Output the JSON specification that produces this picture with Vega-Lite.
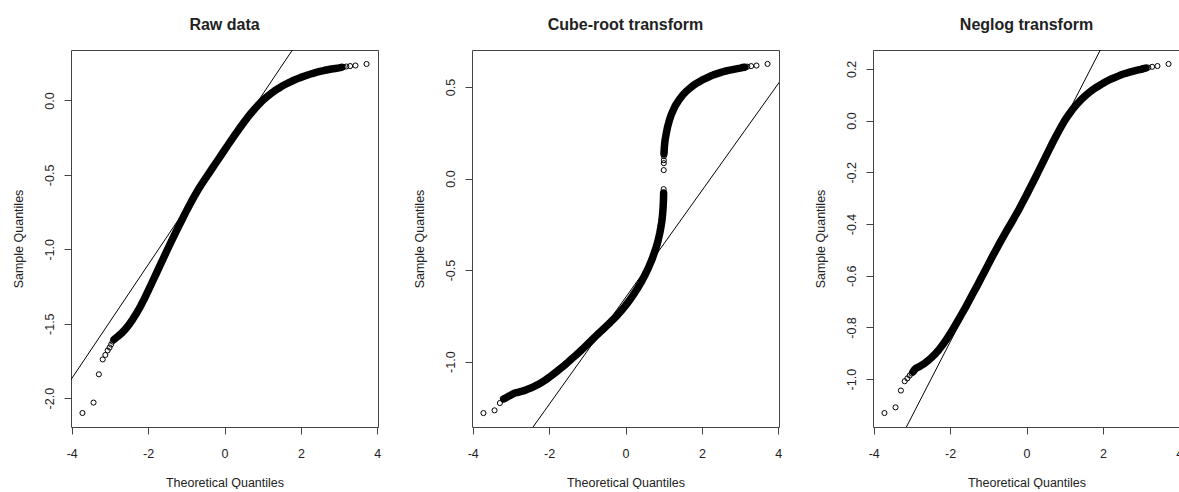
{
 "$schema": "https://vega.github.io/schema/vega-lite/v6.json",
 "autosize": {"type": "pad"},
 "padding": {"left": 11, "top": 16, "right": 0, "bottom": 0},
 "background": "white",
 "spacing": 94,
 "bounds": "flush",
 "config": {
  "font": "Liberation Sans",
  "view": {"stroke": "#444", "strokeWidth": 1},
  "axis": {"domain": false, "grid": false, "ticks": true, "tickSize": 7, "tickColor": "#444", "labelFont": "Liberation Sans", "labelFontSize": 12.5, "labelColor": "#222", "titleFont": "Liberation Sans", "titleFontSize": 12.5, "titleFontWeight": "normal", "titleColor": "#222", "labelFlush": false, "labelOverlap": false, "labelBound": false},
  "axisX": {"labelAngle": 0, "labelAlign": "center", "labelBaseline": "alphabetic", "labelPadding": 23, "titleY": 59, "titleBaseline": "alphabetic", "titleAlign": "center"},
  "axisY": {"labelAngle": 270, "labelAlign": "center", "labelBaseline": "alphabetic", "labelPadding": 11, "titleX": -53, "titleY": 188.5, "titleAngle": 270, "titleAlign": "center", "titleBaseline": "middle"},
  "title": {"font": "Liberation Sans", "fontSize": 16, "fontWeight": "bold", "color": "#222", "offset": 17, "baseline": "alphabetic", "frame": "group", "anchor": "middle"}
 },
 "datasets": {
  "raw": [
   {"x":-3.72,"y":-2.1},{"x":-3.43,"y":-2.03},{"x":-3.29,"y":-1.84},{"x":-3.19,"y":-1.74},{"x":-3.12,"y":-1.71},{"x":-3.06,"y":-1.68},{"x":-3.01,"y":-1.66},{"x":-2.97,"y":-1.64},{"x":-2.93,"y":-1.62},{"x":-2.89,"y":-1.605},
   {"x":-2.8,"y":-1.587},{"x":-2.7,"y":-1.565},{"x":-2.6,"y":-1.538},{"x":-2.5,"y":-1.506},{"x":-2.4,"y":-1.469},{"x":-2.3,"y":-1.428},{"x":-2.2,"y":-1.383},{"x":-2.1,"y":-1.333},{"x":-2.0,"y":-1.28},{"x":-1.9,"y":-1.225},
   {"x":-1.8,"y":-1.17},{"x":-1.7,"y":-1.115},{"x":-1.6,"y":-1.06},{"x":-1.5,"y":-1.005},{"x":-1.4,"y":-0.951},{"x":-1.3,"y":-0.898},{"x":-1.2,"y":-0.846},{"x":-1.1,"y":-0.795},{"x":-1.0,"y":-0.744},{"x":-0.9,"y":-0.695},
   {"x":-0.8,"y":-0.648},{"x":-0.7,"y":-0.604},{"x":-0.6,"y":-0.563},{"x":-0.5,"y":-0.524},{"x":-0.4,"y":-0.486},{"x":-0.3,"y":-0.448},{"x":-0.2,"y":-0.41},{"x":-0.1,"y":-0.372},{"x":0,"y":-0.334},{"x":0.1,"y":-0.296},
   {"x":0.2,"y":-0.258},{"x":0.3,"y":-0.221},{"x":0.4,"y":-0.185},{"x":0.5,"y":-0.15},{"x":0.6,"y":-0.116},{"x":0.7,"y":-0.084},{"x":0.8,"y":-0.054},{"x":0.9,"y":-0.026},{"x":1.0,"y":0.0},{"x":1.1,"y":0.022},
   {"x":1.2,"y":0.043},{"x":1.3,"y":0.062},{"x":1.4,"y":0.079},{"x":1.5,"y":0.095},{"x":1.6,"y":0.109},{"x":1.7,"y":0.122},{"x":1.8,"y":0.134},{"x":1.9,"y":0.145},{"x":2.0,"y":0.155},{"x":2.1,"y":0.164},
   {"x":2.2,"y":0.173},{"x":2.3,"y":0.181},{"x":2.4,"y":0.188},{"x":2.5,"y":0.195},{"x":2.6,"y":0.201},{"x":2.7,"y":0.206},{"x":2.8,"y":0.211},{"x":2.9,"y":0.215},{"x":3.0,"y":0.219},{"x":3.06,"y":0.222},
   {"x":3.12,"y":0.225},{"x":3.19,"y":0.228},{"x":3.29,"y":0.231},{"x":3.43,"y":0.235},{"x":3.72,"y":0.245}
  ],
  "cube": [
   {"x":-3.72,"y":-1.281},{"x":-3.43,"y":-1.266},{"x":-3.29,"y":-1.226},{"x":-3.19,"y":-1.203},{"x":-3.12,"y":-1.196},{"x":-3.06,"y":-1.189},{"x":-3.01,"y":-1.184},{"x":-2.97,"y":-1.179},{"x":-2.93,"y":-1.175},{"x":-2.89,"y":-1.171},
   {"x":-2.8,"y":-1.167},{"x":-2.7,"y":-1.161},{"x":-2.6,"y":-1.154},{"x":-2.5,"y":-1.146},{"x":-2.4,"y":-1.136},{"x":-2.3,"y":-1.126},{"x":-2.2,"y":-1.114},{"x":-2.1,"y":-1.101},{"x":-2.0,"y":-1.086},{"x":-1.9,"y":-1.07},
   {"x":-1.8,"y":-1.054},{"x":-1.7,"y":-1.037},{"x":-1.6,"y":-1.02},{"x":-1.5,"y":-1.002},{"x":-1.4,"y":-0.983},{"x":-1.3,"y":-0.965},{"x":-1.2,"y":-0.946},{"x":-1.1,"y":-0.926},{"x":-1.0,"y":-0.906},{"x":-0.9,"y":-0.886},
   {"x":-0.8,"y":-0.865},{"x":-0.7,"y":-0.845},{"x":-0.6,"y":-0.826},{"x":-0.5,"y":-0.806},{"x":-0.4,"y":-0.786},{"x":-0.3,"y":-0.765},{"x":-0.2,"y":-0.743},{"x":-0.1,"y":-0.719},{"x":0,"y":-0.694},{"x":0.1,"y":-0.667},
   {"x":0.2,"y":-0.637},{"x":0.3,"y":-0.605},{"x":0.4,"y":-0.57},{"x":0.5,"y":-0.531},{"x":0.6,"y":-0.488},{"x":0.7,"y":-0.438},{"x":0.8,"y":-0.378},{"x":0.85,"y":-0.342},{"x":0.9,"y":-0.296},{"x":0.93,"y":-0.262},
   {"x":0.95,"y":-0.235},{"x":0.96,"y":-0.218},{"x":0.97,"y":-0.198},{"x":0.98,"y":-0.173},{"x":0.985,"y":-0.157},{"x":0.99,"y":-0.138},{"x":0.993,"y":-0.122},{"x":0.995,"y":-0.109},{"x":0.997,"y":-0.093},{"x":0.998,"y":-0.079},
   {"x":0.999,"y":-0.058},{"x":1.001,"y":0.046},{"x":1.003,"y":0.084},{"x":1.004,"y":0.1},{"x":1.006,"y":0.122},{"x":1.008,"y":0.136},{"x":1.01,"y":0.144},{"x":1.015,"y":0.163},{"x":1.02,"y":0.177},{"x":1.03,"y":0.198},
   {"x":1.04,"y":0.215},{"x":1.05,"y":0.226},{"x":1.07,"y":0.249},{"x":1.1,"y":0.28},{"x":1.15,"y":0.319},{"x":1.2,"y":0.35},{"x":1.3,"y":0.396},{"x":1.4,"y":0.429},{"x":1.5,"y":0.456},{"x":1.6,"y":0.478},
   {"x":1.7,"y":0.496},{"x":1.8,"y":0.512},{"x":1.9,"y":0.525},{"x":2.0,"y":0.537},{"x":2.1,"y":0.547},{"x":2.2,"y":0.557},{"x":2.3,"y":0.566},{"x":2.4,"y":0.573},{"x":2.5,"y":0.58},{"x":2.6,"y":0.586},
   {"x":2.7,"y":0.591},{"x":2.8,"y":0.595},{"x":2.9,"y":0.599},{"x":3.0,"y":0.603},{"x":3.06,"y":0.606},{"x":3.12,"y":0.608},{"x":3.19,"y":0.611},{"x":3.29,"y":0.614},{"x":3.43,"y":0.617},{"x":3.72,"y":0.626}
  ],
  "neglog": [
   {"x":-3.72,"y":-1.131},{"x":-3.43,"y":-1.109},{"x":-3.29,"y":-1.044},{"x":-3.19,"y":-1.008},{"x":-3.12,"y":-0.997},{"x":-3.06,"y":-0.986},{"x":-3.01,"y":-0.978},{"x":-2.97,"y":-0.971},{"x":-2.93,"y":-0.963},{"x":-2.89,"y":-0.957},
   {"x":-2.8,"y":-0.951},{"x":-2.7,"y":-0.942},{"x":-2.6,"y":-0.931},{"x":-2.5,"y":-0.918},{"x":-2.4,"y":-0.904},{"x":-2.3,"y":-0.887},{"x":-2.2,"y":-0.868},{"x":-2.1,"y":-0.847},{"x":-2.0,"y":-0.824},{"x":-1.9,"y":-0.8},
   {"x":-1.8,"y":-0.775},{"x":-1.7,"y":-0.749},{"x":-1.6,"y":-0.723},{"x":-1.5,"y":-0.696},{"x":-1.4,"y":-0.668},{"x":-1.3,"y":-0.641},{"x":-1.2,"y":-0.613},{"x":-1.1,"y":-0.585},{"x":-1.0,"y":-0.556},{"x":-0.9,"y":-0.528},
   {"x":-0.8,"y":-0.5},{"x":-0.7,"y":-0.473},{"x":-0.6,"y":-0.447},{"x":-0.5,"y":-0.421},{"x":-0.4,"y":-0.396},{"x":-0.3,"y":-0.37},{"x":-0.2,"y":-0.344},{"x":-0.1,"y":-0.316},{"x":0,"y":-0.288},{"x":0.1,"y":-0.259},
   {"x":0.2,"y":-0.23},{"x":0.3,"y":-0.2},{"x":0.4,"y":-0.17},{"x":0.5,"y":-0.14},{"x":0.6,"y":-0.11},{"x":0.7,"y":-0.081},{"x":0.8,"y":-0.053},{"x":0.9,"y":-0.026},{"x":1.0,"y":0.0},{"x":1.1,"y":0.022},
   {"x":1.2,"y":0.042},{"x":1.3,"y":0.06},{"x":1.4,"y":0.076},{"x":1.5,"y":0.091},{"x":1.6,"y":0.104},{"x":1.7,"y":0.115},{"x":1.8,"y":0.126},{"x":1.9,"y":0.135},{"x":2.0,"y":0.144},{"x":2.1,"y":0.152},
   {"x":2.2,"y":0.16},{"x":2.3,"y":0.166},{"x":2.4,"y":0.172},{"x":2.5,"y":0.178},{"x":2.6,"y":0.183},{"x":2.7,"y":0.187},{"x":2.8,"y":0.191},{"x":2.9,"y":0.195},{"x":3.0,"y":0.198},{"x":3.06,"y":0.201},
   {"x":3.12,"y":0.203},{"x":3.19,"y":0.205},{"x":3.29,"y":0.208},{"x":3.43,"y":0.211},{"x":3.72,"y":0.219}
  ]
 },
 "hconcat": [
  {
   "width": 307, "height": 377,
   "title": {"text": "Raw data"},
   "encoding": {
    "x": {"field": "x", "type": "quantitative", "scale": {"domain": [-4.02, 4.02], "nice": false, "zero": false}, "axis": {"values": [-4, -2, 0, 2, 4], "title": "Theoretical Quantiles", "labelExpr": "replace(format(datum.value,'d'),'\u2212','-')"}},
    "y": {"field": "y", "type": "quantitative", "scale": {"domain": [-2.194, 0.339], "nice": false, "zero": false}, "axis": {"values": [-2, -1.5, -1, -0.5, 0], "title": "Sample Quantiles", "labelExpr": "replace(format(datum.value,'.1f'),'\u2212','-')"}}
   },
   "layer": [
    {"data": {"name": "raw"}, "transform": [{"filter": "datum.x >= -2.9 && datum.x <= 3.06"}], "mark": {"type": "line", "color": "black", "strokeWidth": 7.5, "strokeCap": "round", "strokeJoin": "round", "clip": true}},
    {"data": {"name": "raw"}, "mark": {"type": "point", "shape": "circle", "filled": false, "color": "black", "size": 26, "strokeWidth": 1, "opacity": 1, "clip": true}},
    {"data": {"values": [{"x": -4.1, "y": -1.906}, {"x": 4.1, "y": 1.226}]}, "mark": {"type": "line", "color": "black", "strokeWidth": 1, "clip": true}}
   ]
  },
  {
   "width": 307, "height": 377,
   "title": {"text": "Cube-root transform"},
   "encoding": {
    "x": {"field": "x", "type": "quantitative", "scale": {"domain": [-4.02, 4.02], "nice": false, "zero": false}, "axis": {"values": [-4, -2, 0, 2, 4], "title": "Theoretical Quantiles", "labelExpr": "replace(format(datum.value,'d'),'\u2212','-')"}},
    "y": {"field": "y", "type": "quantitative", "scale": {"domain": [-1.357, 0.702], "nice": false, "zero": false}, "axis": {"values": [-1, -0.5, 0, 0.5], "title": "Sample Quantiles", "labelExpr": "replace(format(datum.value,'.1f'),'\u2212','-')"}}
   },
   "layer": [
    {"data": {"name": "cube"}, "transform": [{"filter": "datum.x >= -3.2 && datum.y <= -0.07"}], "mark": {"type": "line", "color": "black", "strokeWidth": 7.5, "strokeCap": "round", "strokeJoin": "round", "clip": true}},
    {"data": {"name": "cube"}, "transform": [{"filter": "datum.x <= 3.12 && datum.y >= 0.13"}], "mark": {"type": "line", "color": "black", "strokeWidth": 7.5, "strokeCap": "round", "strokeJoin": "round", "clip": true}},
    {"data": {"name": "cube"}, "mark": {"type": "point", "shape": "circle", "filled": false, "color": "black", "size": 26, "strokeWidth": 1, "opacity": 1, "clip": true}},
    {"data": {"values": [{"x": -4.1, "y": -1.847}, {"x": 4.1, "y": 0.547}]}, "mark": {"type": "line", "color": "black", "strokeWidth": 1, "clip": true}}
   ]
  },
  {
   "width": 307, "height": 377,
   "title": {"text": "Neglog transform"},
   "encoding": {
    "x": {"field": "x", "type": "quantitative", "scale": {"domain": [-4.02, 4.02], "nice": false, "zero": false}, "axis": {"values": [-4, -2, 0, 2, 4], "title": "Theoretical Quantiles", "labelExpr": "replace(format(datum.value,'d'),'\u2212','-')"}},
    "y": {"field": "y", "type": "quantitative", "scale": {"domain": [-1.185, 0.273], "nice": false, "zero": false}, "axis": {"values": [-1, -0.8, -0.6, -0.4, -0.2, 0, 0.2], "title": "Sample Quantiles", "labelExpr": "replace(format(datum.value,'.1f'),'\u2212','-')"}}
   },
   "layer": [
    {"data": {"name": "neglog"}, "transform": [{"filter": "datum.x >= -2.97 && datum.x <= 3.12"}], "mark": {"type": "line", "color": "black", "strokeWidth": 7.5, "strokeCap": "round", "strokeJoin": "round", "clip": true}},
    {"data": {"name": "neglog"}, "mark": {"type": "point", "shape": "circle", "filled": false, "color": "black", "size": 26, "strokeWidth": 1, "opacity": 1, "clip": true}},
    {"data": {"values": [{"x": -4.1, "y": -1.459}, {"x": 4.1, "y": 0.895}]}, "mark": {"type": "line", "color": "black", "strokeWidth": 1, "clip": true}}
   ]
  }
 ]
}
